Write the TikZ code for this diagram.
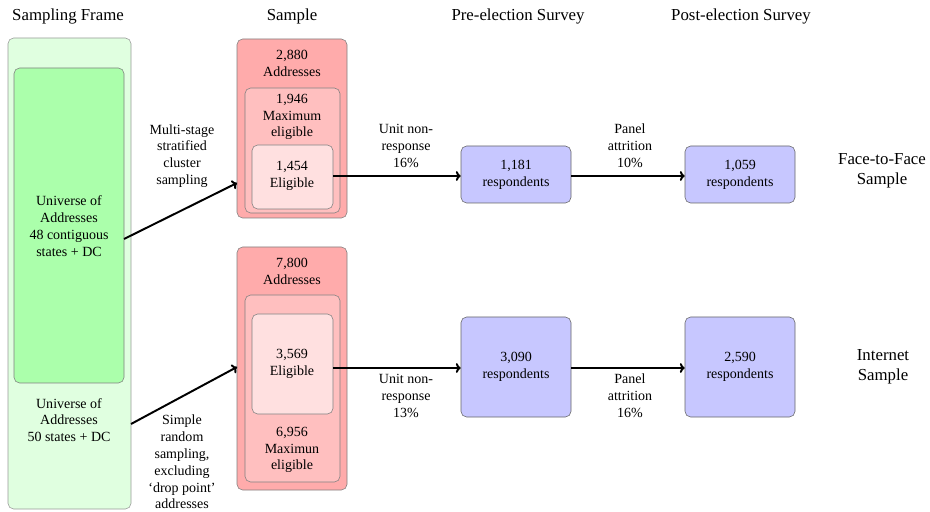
\documentclass[tikz,border=0pt]{standalone}
\usepackage{fontspec}
\setmainfont{Liberation Serif}
\usepackage{tikz}
\usetikzlibrary{fit,arrows.meta}
\tikzset{boxframe/.style={draw=black!40,fill=green!12,rounded corners=4pt,inner sep=0pt}}
\tikzset{boxuniverse/.style={draw=black!50,fill=green!33,rounded corners=4pt,inner sep=0pt}}
\tikzset{boxaddr/.style={draw=black!50,fill=red!33,rounded corners=4pt,inner sep=0pt}}
\tikzset{boxmax/.style={draw=black!50,fill=red!25,rounded corners=4pt,inner sep=0pt}}
\tikzset{boxelig/.style={draw=black!50,fill=red!12,rounded corners=4pt,inner sep=0pt}}
\tikzset{boxresp/.style={draw=black!60,fill=blue!22,rounded corners=4pt,inner sep=0pt}}
\tikzset{textblock/.style={align=center,inner sep=1pt}}
\tikzset{heading/.style={font=\large,inner sep=1pt,align=center}}
\tikzset{flowarrow/.style={-{To[length=3.5pt,width=7pt]},line width=1.4pt}}

\begin{document}
\begin{tikzpicture}[x=0.714pt,y=-0.714pt]
\useasboundingbox (0,0) rectangle (930,512);

% Column headings
\node[heading] at (68,16) (hframe) {Sampling Frame};
\node[heading] at (292,16) (hsample) {Sample};
\node[heading] at (518,16) (hpre) {Pre-election Survey};
\node[heading] at (741,16) (hpost) {Post-election Survey};

% Sampling frame (outer: 50 states, inner: 48 states)
\node[boxframe, fit={(8,38) (131,509)}] (frame) {};
\node[boxuniverse, fit={(14,68) (124,383)}] (univ48) {};
\node[textblock] at (69,226) (t48) {Universe of\\Addresses\\48 contiguous\\states + DC};
\node[textblock] at (69,420) (t50) {Universe of\\Addresses\\50 states + DC};

% Face-to-face sample boxes
\node[boxaddr, fit={(237,39) (347,218)}] (addrf) {};
\node[boxmax, fit={(245,88) (340,213)}] (maxf) {};
\node[boxelig, fit={(252,145) (333,209)}] (eligf) {};
\node[textblock] at (292,63.5) (taddrf) {2,880\\Addresses};
\node[textblock] at (292,117) (tmaxf) {1,946\\Maximum\\eligible};
\node[textblock] at (292,175.5) (teligf) {1,454\\Eligible};

% Internet sample boxes
\node[boxaddr, fit={(237,247) (347,490)}] (addri) {};
\node[boxmax, fit={(245,295) (340,482)}] (maxi) {};
\node[boxelig, fit={(252,314) (333,414)}] (eligi) {};
\node[textblock] at (292,271.5) (taddri) {7,800\\Addresses};
\node[textblock] at (292,363.5) (teligi) {3,569\\Eligible};
\node[textblock] at (292,450) (tmaxi) {6,956\\Maximun\\eligible};

% Survey waves
\node[boxresp, fit={(461,146) (571,203)}] (pref) {};
\node[boxresp, fit={(685,146) (795,203)}] (postf) {};
\node[boxresp, fit={(461,317) (571,417)}] (prei) {};
\node[boxresp, fit={(685,317) (795,417)}] (posti) {};
\node[textblock] at (516,175) (tpref) {1,181\\respondents};
\node[textblock] at (740,175) (tpostf) {1,059\\respondents};
\node[textblock] at (516,366.5) (tprei) {3,090\\respondents};
\node[textblock] at (740,366.5) (tposti) {2,590\\respondents};

% Row labels
\node[heading] at (882,171) (lface) {Face-to-Face\\Sample};
\node[heading] at (883,366.5) (lnet) {Internet\\Sample};

% Sampling arrows (free ends on the box sides)
\coordinate (s48) at (124,239);
\coordinate (s50) at (131,424);
\coordinate (e48) at (237,183);
\coordinate (e50) at (237,367);
\draw[flowarrow] (s48) -- (e48);
\draw[flowarrow] (s50) -- (e50);
\node[textblock] at (182,156) (lmulti) {Multi-stage\\stratified\\cluster\\sampling};
\node[textblock] at (182,462) (lsimple) {Simple\\random\\sampling,\\excluding\\`drop point'\\addresses};

% Response arrows
\coordinate (rf) at (333,176);
\coordinate (ri) at (333,368);
\draw[flowarrow] (rf) -- (rf -| pref.west);
\draw[flowarrow] (pref.east |- rf) -- (postf.west |- rf);
\draw[flowarrow] (ri) -- (ri -| prei.west);
\draw[flowarrow] (prei.east |- ri) -- (posti.west |- ri);
\node[textblock] at (406,146) (lunitf) {Unit non-\\response\\16\%};
\node[textblock] at (630,146) (lpanf) {Panel\\attrition\\10\%};
\node[textblock] at (406,396) (luniti) {Unit non-\\response\\13\%};
\node[textblock] at (630,396) (lpani) {Panel\\attrition\\16\%};

\end{tikzpicture}
\end{document}
